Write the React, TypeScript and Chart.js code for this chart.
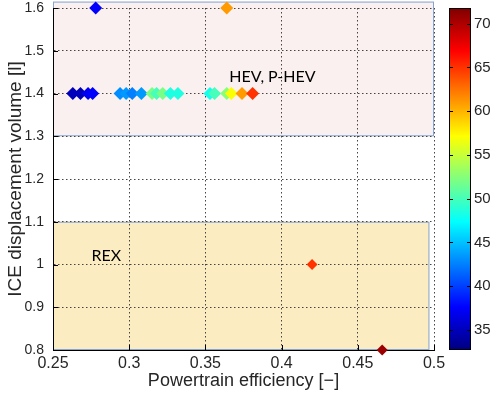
import React, { useEffect, useRef } from 'react';
import { Chart, registerables } from 'chart.js';

Chart.register(...registerables);

// HEV / P-HEV operating points: efficiency, displacement and colour value
const hevEfficiency = [0.278, 0.364, 0.263, 0.268, 0.273, 0.276, 0.294, 0.298, 0.302, 0.308, 0.315, 0.318, 0.322, 0.327, 0.332, 0.353, 0.356, 0.364, 0.367, 0.374, 0.381];
const hevDisplacement = [1.6, 1.6, 1.4, 1.4, 1.4, 1.4, 1.4, 1.4, 1.4, 1.4, 1.4, 1.4, 1.4, 1.4, 1.4, 1.4, 1.4, 1.4, 1.4, 1.4, 1.4];
const hevColorValue = [37.5, 61, 35, 35, 37, 37.5, 43, 43.5, 42.5, 43.5, 52, 50, 52, 48.5, 48.5, 48, 50, 52.5, 57, 61, 65];

// REX operating points
const rexEfficiency = [0.42, 0.466];
const rexDisplacement = [1.0, 0.8];
const rexColorValue = [65, 70.8];

// axes
const xTicks = [0.25, 0.3, 0.35, 0.4, 0.45, 0.5];
const yTicks = [0.8, 0.9, 1.0, 1.1, 1.2, 1.3, 1.4, 1.5, 1.6];
const cbTicks = [35, 40, 45, 50, 55, 60, 65, 70];
const cbRange = [32.7, 71.8];

// shaded regions
const hevBoxX = [0.25, 0.5];
const hevBoxY = [1.3, 1.615];
const rexBoxX = [0.25, 0.497];
const rexBoxY = [0.8, 1.1];

// region captions
const regionLabels = ['HEV, P-HEV', 'REX'];
const regionLabelX = [0.394, 0.285];
const regionLabelY = [1.439, 1.02];

function jet(v: number): string {
  const t = Math.min(1, Math.max(0, (v - cbRange[0]) / (cbRange[1] - cbRange[0])));
  const c = (k: number) => Math.round(255 * Math.min(1, Math.max(0, 1.5 - Math.abs(4 * t - k))));
  return `rgb(${c(3)},${c(2)},${c(1)})`;
}

const fmt = (v: number | string) => String(Math.round(Number(v) * 100) / 100);

const decorPlugin = {
  id: 'decor',
  beforeDraw(chart: any) {
    const { ctx, scales } = chart;
    const x = scales.x;
    const y = scales.y;
    const box = (bx: number[], by: number[], fill: string) => {
      const x0 = x.getPixelForValue(bx[0]);
      const x1 = x.getPixelForValue(bx[1]);
      const y0 = y.getPixelForValue(by[1]);
      const y1 = y.getPixelForValue(by[0]);
      ctx.save();
      ctx.fillStyle = fill;
      ctx.fillRect(x0, y0, x1 - x0, y1 - y0);
      ctx.strokeStyle = '#86a4d4';
      ctx.lineWidth = 1;
      ctx.strokeRect(x0 + 0.5, y0 + 0.5, x1 - x0 - 1, y1 - y0 - 1);
      ctx.restore();
    };
    box(hevBoxX, hevBoxY, '#f9f0ef');
    box(rexBoxX, rexBoxY, '#fcecc2');
  },
  afterDraw(chart: any) {
    const { ctx, scales, chartArea } = chart;
    const x = scales.x;
    const y = scales.y;
    const c = scales.c;
    ctx.save();
    // inward tick marks
    ctx.strokeStyle = '#000';
    ctx.lineWidth = 1;
    ctx.beginPath();
    xTicks.forEach((v) => {
      const px = Math.round(x.getPixelForValue(v)) + 0.5;
      ctx.moveTo(px, chartArea.bottom);
      ctx.lineTo(px, chartArea.bottom - 5);
    });
    yTicks.forEach((v) => {
      const py = Math.round(y.getPixelForValue(v)) + 0.5;
      ctx.moveTo(chartArea.left, py);
      ctx.lineTo(chartArea.left + 5, py);
    });
    ctx.stroke();

    // colour bar
    const bx0 = c.left + 15;
    const bx1 = c.left + 37;
    const grad = ctx.createLinearGradient(0, c.bottom, 0, c.top);
    for (let i = 0; i <= 64; i++) {
      const v = cbRange[0] + (i / 64) * (cbRange[1] - cbRange[0]);
      grad.addColorStop(i / 64, jet(v));
    }
    ctx.fillStyle = grad;
    ctx.fillRect(bx0, c.top, bx1 - bx0, c.bottom - c.top);
    ctx.strokeStyle = '#000';
    ctx.strokeRect(bx0 + 0.5, c.top + 0.5, bx1 - bx0 - 1, c.bottom - c.top - 1);
    ctx.beginPath();
    cbTicks.forEach((v) => {
      const py = Math.round(c.getPixelForValue(v)) + 0.5;
      ctx.moveTo(bx0, py);
      ctx.lineTo(bx0 + 4, py);
      ctx.moveTo(bx1, py);
      ctx.lineTo(bx1 - 4, py);
    });
    ctx.stroke();

    // region captions
    ctx.fillStyle = '#000';
    ctx.font = '16px Lato, "Open Sans", sans-serif';
    ctx.textAlign = 'center';
    ctx.textBaseline = 'middle';
    regionLabels.forEach((t, i) => {
      ctx.fillText(t, x.getPixelForValue(regionLabelX[i]), y.getPixelForValue(regionLabelY[i]));
    });
    ctx.restore();
  },
};

export default function App() {
  const ref = useRef<HTMLCanvasElement | null>(null);

  useEffect(() => {
    if (!ref.current) return;
    const gridDash = { display: true, color: '#000', width: 1, dash: [1.5, 2.5] };
    const chart = new Chart(ref.current, {
      type: 'scatter',
      data: {
        datasets: [
          {
            label: 'HEV, P-HEV',
            data: hevEfficiency.map((v, i) => ({ x: v, y: hevDisplacement[i] })),
            pointStyle: 'rectRot',
            pointRadius: 6.5,
            pointBorderWidth: 0,
            pointBackgroundColor: hevColorValue.map(jet),
            pointBorderColor: hevColorValue.map(jet),
            clip: false,
          },
          {
            label: 'REX',
            data: rexEfficiency.map((v, i) => ({ x: v, y: rexDisplacement[i] })),
            pointStyle: 'rectRot',
            pointRadius: 5.5,
            pointBorderWidth: 0,
            pointBackgroundColor: rexColorValue.map(jet),
            pointBorderColor: rexColorValue.map(jet),
            clip: false,
          },
        ],
      },
      options: {
        animation: false,
        responsive: true,
        maintainAspectRatio: false,
        events: [],
        layout: { padding: { top: 8, left: 0, right: 0, bottom: 0 } },
        plugins: { legend: { display: false }, tooltip: { enabled: false } },
        scales: {
          x: {
            type: 'linear',
            min: 0.25,
            max: 0.5,
            afterBuildTicks: (s: any) => { s.ticks = xTicks.map((v) => ({ value: v })); },
            afterFit: (s: any) => { s.height = 51; s.paddingLeft = 0; s.paddingRight = 0; },
            ticks: {
              autoSkip: false,
              maxRotation: 0,
              padding: 4,
              color: '#262626',
              font: { family: '"Liberation Sans", Arial, sans-serif', size: 16 },
              callback: (v: any) => fmt(v),
            },
            grid: { color: '#444', drawTicks: false, lineWidth: 1 },
            border: { ...gridDash },
            title: {
              display: true,
              text: 'Powertrain efficiency [−]',
              color: '#262626',
              font: { family: '"Liberation Sans", Arial, sans-serif', size: 18 },
              padding: { top: 0, bottom: 9 },
            },
          },
          y: {
            type: 'linear',
            min: 0.8,
            max: 1.6,
            afterBuildTicks: (s: any) => { s.ticks = yTicks.map((v) => ({ value: v })); },
            afterFit: (s: any) => { s.width = 53; s.paddingTop = 0; s.paddingBottom = 0; },
            ticks: {
              autoSkip: false,
              padding: 9,
              color: '#262626',
              font: { family: '"Liberation Sans", Arial, sans-serif', size: 14 },
              callback: (v: any) => fmt(v),
            },
            grid: { color: '#444', drawTicks: false, lineWidth: 1 },
            border: { ...gridDash },
            title: {
              display: true,
              text: 'ICE displacement volume [l]',
              color: '#262626',
              font: { family: '"Liberation Sans", Arial, sans-serif', size: 19 },
              padding: { top: 4, bottom: 4 },
            },
          },
          c: {
            type: 'linear',
            position: 'right',
            min: cbRange[0],
            max: cbRange[1],
            afterBuildTicks: (s: any) => { s.ticks = cbTicks.map((v) => ({ value: v })); },
            afterFit: (s: any) => { s.width = 62; s.paddingTop = 0; s.paddingBottom = 0; },
            ticks: {
              padding: 40,
              color: '#262626',
              font: { family: '"Liberation Sans", Arial, sans-serif', size: 15 },
            },
            grid: { display: false, drawTicks: false, drawOnChartArea: false },
            border: { display: false },
          },
        },
      },
      plugins: [decorPlugin],
    } as any);
    return () => chart.destroy();
  }, []);

  return (
    <div style={{ position: 'fixed', left: 0, top: 0, width: 496, height: 401, background: '#fff' }}>
      <canvas ref={ref} />
    </div>
  );
}
